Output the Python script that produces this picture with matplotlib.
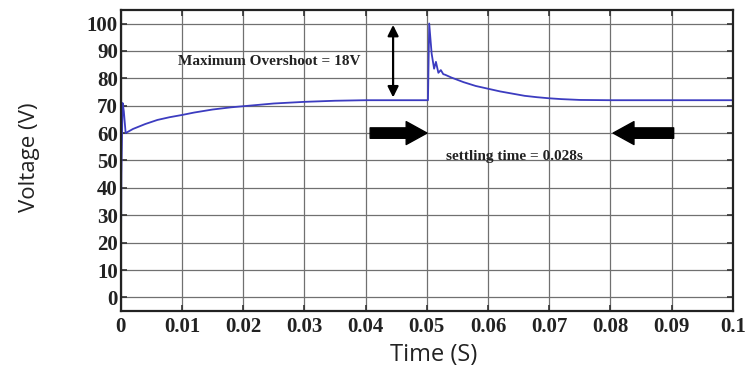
import matplotlib
matplotlib.use("Agg")
from matplotlib import pyplot as plt

# voltage response
time_s = [0, 0.0001, 0.0003, 0.0005, 0.0008, 0.0012, 0.002, 0.004, 0.006, 0.008,
          0.01, 0.012, 0.015, 0.018, 0.02, 0.025, 0.03, 0.035, 0.04, 0.045,
          0.0502, 0.0504, 0.0508, 0.0512, 0.0515, 0.0519, 0.0523, 0.0527, 0.053,
          0.054, 0.056, 0.058, 0.06, 0.062, 0.064, 0.066, 0.068, 0.07, 0.072,
          0.075, 0.08, 0.09, 0.1]
voltage = [0, 45, 71, 68, 60, 60.5, 61.5, 63.3, 64.8, 65.8,
           66.6, 67.5, 68.6, 69.4, 69.8, 70.8, 71.4, 71.8, 72, 72,
           72, 100, 89, 83.5, 86, 82, 83, 81.5, 81.3,
           80.3, 78.6, 77.2, 76.2, 75.2, 74.4, 73.6, 73.1, 72.7, 72.4,
           72.1, 72, 72, 72]

xticks = [0, 0.01, 0.02, 0.03, 0.04, 0.05, 0.06, 0.07, 0.08, 0.09, 0.1]
xtick_labels = ["0", "0.01", "0.02", "0.03", "0.04", "0.05", "0.06", "0.07", "0.08", "0.09", "0.1"]
yticks = list(range(0, 101, 10))

fig = plt.figure(figsize=(7.5, 3.78), dpi=100)
ax = fig.add_axes([0.161, 0.177, 0.816, 0.797])

ax.plot(time_s, voltage, color="#3c3cc0", lw=1.3)

ax.set_xlim(0, 0.1)
ax.set_ylim(-5, 105)
ax.set_xticks(xticks)
ax.set_xticklabels(xtick_labels)
ax.set_yticks(yticks)
ax.grid(True, color="#707070", lw=0.9)
ax.tick_params(direction="in", top=True, right=True, length=4, width=1.2, color="#333333")
for lab in ax.get_xticklabels() + ax.get_yticklabels():
    lab.set_fontfamily("Liberation Serif")
    lab.set_fontweight("bold")
    lab.set_fontsize(15)
    lab.set_color("#222222")
ax.tick_params(axis="x", pad=4)
ax.tick_params(axis="y", pad=2)
for sp in ax.spines.values():
    sp.set_linewidth(1.6)
    sp.set_color("#222222")

fig.text(0.04, 0.585, "Voltage (V)", rotation=90, ha="center", va="center",
         fontsize=16, family="Open Sans", color="#222222")
fig.text(0.578, 0.06, "Time (S)", ha="center", va="center",
         fontsize=17, family="Open Sans", color="#222222")

# annotations
ax.annotate("", xy=(0.0445, 72), xytext=(0.0445, 100.5),
            arrowprops=dict(arrowstyle="<|-|>", color="black", lw=1.6, mutation_scale=16))
ax.text(0.0093, 86, "Maximum Overshoot = 18V", fontsize=11, family="Liberation Serif",
        fontweight="bold", color="#222222", va="center")
ax.annotate("", xy=(0.0505, 60), xytext=(0.0403, 60),
            arrowprops=dict(arrowstyle="simple,head_width=1.1,head_length=1.0,tail_width=0.5",
                            color="black", mutation_scale=15))
ax.annotate("", xy=(0.080, 60), xytext=(0.0908, 60),
            arrowprops=dict(arrowstyle="simple,head_width=1.1,head_length=1.0,tail_width=0.5",
                            color="black", mutation_scale=15))
ax.text(0.0531, 51.5, "settling time = 0.028s", fontsize=11, family="Liberation Serif",
        fontweight="bold", color="#222222", va="center")

fig.savefig("out.png", dpi=100)
